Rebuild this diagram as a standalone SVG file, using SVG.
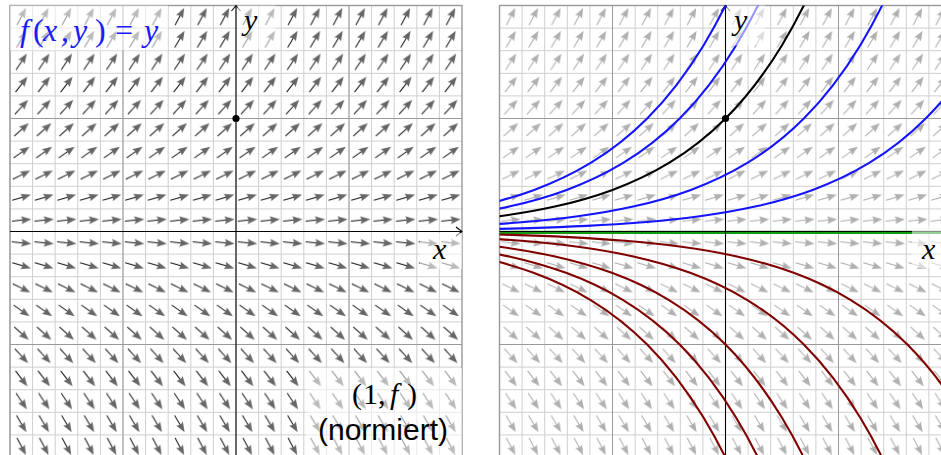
<svg xmlns="http://www.w3.org/2000/svg" width="941" height="455" viewBox="0 0 941 455">
<style>
.minor{fill:none;stroke:#cfcfcf;stroke-width:1}
.major{fill:none;stroke:#9a9a9a;stroke-width:1}
.frame{fill:none;stroke:#999999;stroke-width:1.4}
.axis{fill:none;stroke:#000000;stroke-width:1.1}
.veil{fill:#ffffff;fill-opacity:0.55}
.math{font-family:"Liberation Serif","DejaVu Serif",serif;font-size:30px;fill:#000000}
.it{font-style:italic}
.sol{fill:none;stroke-width:2.1}
.sans{font-family:"Liberation Sans",Arial,sans-serif;font-size:30px;fill:#000000}
</style>
<defs>
<g id="a"><line x1="-9.5" y1="0" x2="2" y2="0" stroke="#111111" stroke-width="1"/><path d="M10,0 L0,-3.9 Q2.4,0 0,3.9 Z" fill="#666666"/></g>
<g id="b"><line x1="-9.5" y1="0" x2="2" y2="0" stroke="#a8a8a8" stroke-width="1"/><path d="M10,0 L0,-3.9 Q2.4,0 0,3.9 Z" fill="#b0b0b0"/></g>
<pattern id="p0" patternUnits="userSpaceOnUse" x="10" y="5.5" width="22.6" height="22.6"><use href="#a" transform="translate(11.3,11.3) rotate(-62.24)"/></pattern>
<pattern id="p1" patternUnits="userSpaceOnUse" x="10" y="5.5" width="22.6" height="22.6"><use href="#a" transform="translate(11.3,11.3) rotate(-59.53)"/></pattern>
<pattern id="p2" patternUnits="userSpaceOnUse" x="10" y="5.5" width="22.6" height="22.6"><use href="#a" transform="translate(11.3,11.3) rotate(-56.31)"/></pattern>
<pattern id="p3" patternUnits="userSpaceOnUse" x="10" y="5.5" width="22.6" height="22.6"><use href="#a" transform="translate(11.3,11.3) rotate(-52.43)"/></pattern>
<pattern id="p4" patternUnits="userSpaceOnUse" x="10" y="5.5" width="22.6" height="22.6"><use href="#a" transform="translate(11.3,11.3) rotate(-47.73)"/></pattern>
<pattern id="p5" patternUnits="userSpaceOnUse" x="10" y="5.5" width="22.6" height="22.6"><use href="#a" transform="translate(11.3,11.3) rotate(-41.99)"/></pattern>
<pattern id="p6" patternUnits="userSpaceOnUse" x="10" y="5.5" width="22.6" height="22.6"><use href="#a" transform="translate(11.3,11.3) rotate(-34.99)"/></pattern>
<pattern id="p7" patternUnits="userSpaceOnUse" x="10" y="5.5" width="22.6" height="22.6"><use href="#a" transform="translate(11.3,11.3) rotate(-26.57)"/></pattern>
<pattern id="p8" patternUnits="userSpaceOnUse" x="10" y="5.5" width="22.6" height="22.6"><use href="#a" transform="translate(11.3,11.3) rotate(-16.70)"/></pattern>
<pattern id="p9" patternUnits="userSpaceOnUse" x="10" y="5.5" width="22.6" height="22.6"><use href="#a" transform="translate(11.3,11.3) rotate(-5.71)"/></pattern>
<pattern id="p10" patternUnits="userSpaceOnUse" x="10" y="5.5" width="22.6" height="22.6"><use href="#a" transform="translate(11.3,11.3) rotate(5.71)"/></pattern>
<pattern id="p11" patternUnits="userSpaceOnUse" x="10" y="5.5" width="22.6" height="22.6"><use href="#a" transform="translate(11.3,11.3) rotate(16.70)"/></pattern>
<pattern id="p12" patternUnits="userSpaceOnUse" x="10" y="5.5" width="22.6" height="22.6"><use href="#a" transform="translate(11.3,11.3) rotate(26.57)"/></pattern>
<pattern id="p13" patternUnits="userSpaceOnUse" x="10" y="5.5" width="22.6" height="22.6"><use href="#a" transform="translate(11.3,11.3) rotate(34.99)"/></pattern>
<pattern id="p14" patternUnits="userSpaceOnUse" x="10" y="5.5" width="22.6" height="22.6"><use href="#a" transform="translate(11.3,11.3) rotate(41.99)"/></pattern>
<pattern id="p15" patternUnits="userSpaceOnUse" x="10" y="5.5" width="22.6" height="22.6"><use href="#a" transform="translate(11.3,11.3) rotate(47.73)"/></pattern>
<pattern id="p16" patternUnits="userSpaceOnUse" x="10" y="5.5" width="22.6" height="22.6"><use href="#a" transform="translate(11.3,11.3) rotate(52.43)"/></pattern>
<pattern id="p17" patternUnits="userSpaceOnUse" x="10" y="5.5" width="22.6" height="22.6"><use href="#a" transform="translate(11.3,11.3) rotate(56.31)"/></pattern>
<pattern id="p18" patternUnits="userSpaceOnUse" x="10" y="5.5" width="22.6" height="22.6"><use href="#a" transform="translate(11.3,11.3) rotate(59.53)"/></pattern>
<pattern id="p19" patternUnits="userSpaceOnUse" x="10" y="5.5" width="22.6" height="22.6"><use href="#a" transform="translate(11.3,11.3) rotate(62.24)"/></pattern>
<pattern id="q0" patternUnits="userSpaceOnUse" x="499.5" y="5.5" width="22.6" height="22.6"><use href="#b" transform="translate(11.3,11.3) rotate(-62.24)"/></pattern>
<pattern id="q1" patternUnits="userSpaceOnUse" x="499.5" y="5.5" width="22.6" height="22.6"><use href="#b" transform="translate(11.3,11.3) rotate(-59.53)"/></pattern>
<pattern id="q2" patternUnits="userSpaceOnUse" x="499.5" y="5.5" width="22.6" height="22.6"><use href="#b" transform="translate(11.3,11.3) rotate(-56.31)"/></pattern>
<pattern id="q3" patternUnits="userSpaceOnUse" x="499.5" y="5.5" width="22.6" height="22.6"><use href="#b" transform="translate(11.3,11.3) rotate(-52.43)"/></pattern>
<pattern id="q4" patternUnits="userSpaceOnUse" x="499.5" y="5.5" width="22.6" height="22.6"><use href="#b" transform="translate(11.3,11.3) rotate(-47.73)"/></pattern>
<pattern id="q5" patternUnits="userSpaceOnUse" x="499.5" y="5.5" width="22.6" height="22.6"><use href="#b" transform="translate(11.3,11.3) rotate(-41.99)"/></pattern>
<pattern id="q6" patternUnits="userSpaceOnUse" x="499.5" y="5.5" width="22.6" height="22.6"><use href="#b" transform="translate(11.3,11.3) rotate(-34.99)"/></pattern>
<pattern id="q7" patternUnits="userSpaceOnUse" x="499.5" y="5.5" width="22.6" height="22.6"><use href="#b" transform="translate(11.3,11.3) rotate(-26.57)"/></pattern>
<pattern id="q8" patternUnits="userSpaceOnUse" x="499.5" y="5.5" width="22.6" height="22.6"><use href="#b" transform="translate(11.3,11.3) rotate(-16.70)"/></pattern>
<pattern id="q9" patternUnits="userSpaceOnUse" x="499.5" y="5.5" width="22.6" height="22.6"><use href="#b" transform="translate(11.3,11.3) rotate(-5.71)"/></pattern>
<pattern id="q10" patternUnits="userSpaceOnUse" x="499.5" y="5.5" width="22.6" height="22.6"><use href="#b" transform="translate(11.3,11.3) rotate(5.71)"/></pattern>
<pattern id="q11" patternUnits="userSpaceOnUse" x="499.5" y="5.5" width="22.6" height="22.6"><use href="#b" transform="translate(11.3,11.3) rotate(16.70)"/></pattern>
<pattern id="q12" patternUnits="userSpaceOnUse" x="499.5" y="5.5" width="22.6" height="22.6"><use href="#b" transform="translate(11.3,11.3) rotate(26.57)"/></pattern>
<pattern id="q13" patternUnits="userSpaceOnUse" x="499.5" y="5.5" width="22.6" height="22.6"><use href="#b" transform="translate(11.3,11.3) rotate(34.99)"/></pattern>
<pattern id="q14" patternUnits="userSpaceOnUse" x="499.5" y="5.5" width="22.6" height="22.6"><use href="#b" transform="translate(11.3,11.3) rotate(41.99)"/></pattern>
<pattern id="q15" patternUnits="userSpaceOnUse" x="499.5" y="5.5" width="22.6" height="22.6"><use href="#b" transform="translate(11.3,11.3) rotate(47.73)"/></pattern>
<pattern id="q16" patternUnits="userSpaceOnUse" x="499.5" y="5.5" width="22.6" height="22.6"><use href="#b" transform="translate(11.3,11.3) rotate(52.43)"/></pattern>
<pattern id="q17" patternUnits="userSpaceOnUse" x="499.5" y="5.5" width="22.6" height="22.6"><use href="#b" transform="translate(11.3,11.3) rotate(56.31)"/></pattern>
<pattern id="q18" patternUnits="userSpaceOnUse" x="499.5" y="5.5" width="22.6" height="22.6"><use href="#b" transform="translate(11.3,11.3) rotate(59.53)"/></pattern>
<pattern id="q19" patternUnits="userSpaceOnUse" x="499.5" y="5.5" width="22.6" height="22.6"><use href="#b" transform="translate(11.3,11.3) rotate(62.24)"/></pattern>
<path id="gmin" class="minor" d="M10,5.5v452m22.6,-452v452m22.6,-452v452m22.6,-452v452m22.6,-452v452m22.6,-452v452m22.6,-452v452m22.6,-452v452m22.6,-452v452m22.6,-452v452m22.6,-452v452m22.6,-452v452m22.6,-452v452m22.6,-452v452m22.6,-452v452m22.6,-452v452m22.6,-452v452m22.6,-452v452m22.6,-452v452m22.6,-452v452M10,5.5h452m-452,22.6h452m-452,22.6h452m-452,22.6h452m-452,22.6h452m-452,22.6h452m-452,22.6h452m-452,22.6h452m-452,22.6h452m-452,22.6h452m-452,22.6h452m-452,22.6h452m-452,22.6h452m-452,22.6h452m-452,22.6h452m-452,22.6h452m-452,22.6h452m-452,22.6h452m-452,22.6h452m-452,22.6h452"/>
<path id="gmaj" class="major" d="M123,5.5v452M349,5.5v452M10,118.5h452M10,344.5h452"/>
<path id="ex" fill="none" d="M-452,-2.07C-433.17,-2.415 -414.33,-2.844 -395.5,-3.413C-376.67,-3.982 -357.83,-4.688 -339,-5.626C-320.17,-6.564 -301.33,-7.729 -282.5,-9.275C-263.67,-10.821 -244.83,-12.744 -226,-15.293C-207.17,-17.842 -188.33,-21.012 -169.5,-25.214C-150.67,-29.416 -131.83,-34.642 -113,-41.57C-94.17,-48.498 -75.33,-57.115 -56.5,-68.538C-37.67,-79.961 -18.83,-94.167 0,-113C18.83,-131.833 37.67,-155.254 56.5,-186.305C75.33,-217.356 94.17,-255.972 113,-307.166"/>
<clipPath id="clipR"><rect x="499.5" y="5.5" width="441.5" height="452"/></clipPath>
</defs>
<rect x="0" y="0" width="941" height="455" fill="#ffffff"/>

<g id="left-panel">
<use href="#gmin"/>
<g id="left-field">
<rect x="10" y="5.5" width="452" height="22.6" fill="url(#p0)"/>
<rect x="10" y="28.1" width="452" height="22.6" fill="url(#p1)"/>
<rect x="10" y="50.7" width="452" height="22.6" fill="url(#p2)"/>
<rect x="10" y="73.3" width="452" height="22.6" fill="url(#p3)"/>
<rect x="10" y="95.9" width="452" height="22.6" fill="url(#p4)"/>
<rect x="10" y="118.5" width="452" height="22.6" fill="url(#p5)"/>
<rect x="10" y="141.1" width="452" height="22.6" fill="url(#p6)"/>
<rect x="10" y="163.7" width="452" height="22.6" fill="url(#p7)"/>
<rect x="10" y="186.3" width="452" height="22.6" fill="url(#p8)"/>
<rect x="10" y="208.9" width="452" height="22.6" fill="url(#p9)"/>
<rect x="10" y="231.5" width="452" height="22.6" fill="url(#p10)"/>
<rect x="10" y="254.1" width="452" height="22.6" fill="url(#p11)"/>
<rect x="10" y="276.7" width="452" height="22.6" fill="url(#p12)"/>
<rect x="10" y="299.3" width="452" height="22.6" fill="url(#p13)"/>
<rect x="10" y="321.9" width="452" height="22.6" fill="url(#p14)"/>
<rect x="10" y="344.5" width="452" height="22.6" fill="url(#p15)"/>
<rect x="10" y="367.1" width="452" height="22.6" fill="url(#p16)"/>
<rect x="10" y="389.7" width="452" height="22.6" fill="url(#p17)"/>
<rect x="10" y="412.3" width="452" height="22.6" fill="url(#p18)"/>
<rect x="10" y="434.9" width="452" height="22.6" fill="url(#p19)"/>
</g>
<use href="#gmaj"/>
<rect class="frame" x="10" y="5.5" width="452" height="452"/>
<g id="left-axes">
<path class="axis" d="M236,457.5V6M10,231.5H461"/>
<path class="axis" d="M231.5,11Q234.5,7.5 236,5.5Q237.5,7.5 240.5,11M456,227Q460,230 462,231.5Q460,233 456,236"/>
</g>
<circle id="left-point" cx="236" cy="118.5" r="3.6" fill="#000000"/>
<g id="left-labels">
<rect class="veil" x="10" y="5.5" width="158" height="45"/>
<rect class="veil" x="237.5" y="5.5" width="38" height="43"/>
<rect class="veil" x="420" y="233" width="42" height="36"/>
<rect class="veil" x="306" y="368" width="156" height="90"/>
<text class="math" y="41" style="fill:#1a1aff;font-size:32px"><tspan x="20" class="it">f</tspan><tspan x="33">(</tspan><tspan x="43" class="it">x</tspan><tspan x="61">,</tspan><tspan x="73" class="it">y</tspan><tspan x="95">)</tspan><tspan x="115">=</tspan><tspan x="144" class="it">y</tspan></text>
<text class="math it" x="244" y="30">y</text>
<text class="math it" x="433" y="259">x</text>
<text class="math" y="403.5" style="font-size:30px"><tspan x="352">(</tspan><tspan x="363">1</tspan><tspan x="378">,</tspan><tspan x="390" class="it">f</tspan><tspan x="407">)</tspan></text>
<text class="sans" x="318" y="440">(normiert)</text>
</g>
</g>

<g id="right-panel">
<use href="#gmin" transform="translate(489.5,0)"/>
<g id="right-field">
<rect x="499.5" y="5.5" width="441.5" height="22.6" fill="url(#q0)"/>
<rect x="499.5" y="28.1" width="441.5" height="22.6" fill="url(#q1)"/>
<rect x="499.5" y="50.7" width="441.5" height="22.6" fill="url(#q2)"/>
<rect x="499.5" y="73.3" width="441.5" height="22.6" fill="url(#q3)"/>
<rect x="499.5" y="95.9" width="441.5" height="22.6" fill="url(#q4)"/>
<rect x="499.5" y="118.5" width="441.5" height="22.6" fill="url(#q5)"/>
<rect x="499.5" y="141.1" width="441.5" height="22.6" fill="url(#q6)"/>
<rect x="499.5" y="163.7" width="441.5" height="22.6" fill="url(#q7)"/>
<rect x="499.5" y="186.3" width="441.5" height="22.6" fill="url(#q8)"/>
<rect x="499.5" y="208.9" width="441.5" height="22.6" fill="url(#q9)"/>
<rect x="499.5" y="231.5" width="441.5" height="22.6" fill="url(#q10)"/>
<rect x="499.5" y="254.1" width="441.5" height="22.6" fill="url(#q11)"/>
<rect x="499.5" y="276.7" width="441.5" height="22.6" fill="url(#q12)"/>
<rect x="499.5" y="299.3" width="441.5" height="22.6" fill="url(#q13)"/>
<rect x="499.5" y="321.9" width="441.5" height="22.6" fill="url(#q14)"/>
<rect x="499.5" y="344.5" width="441.5" height="22.6" fill="url(#q15)"/>
<rect x="499.5" y="367.1" width="441.5" height="22.6" fill="url(#q16)"/>
<rect x="499.5" y="389.7" width="441.5" height="22.6" fill="url(#q17)"/>
<rect x="499.5" y="412.3" width="441.5" height="22.6" fill="url(#q18)"/>
<rect x="499.5" y="434.9" width="441.5" height="22.6" fill="url(#q19)"/>
</g>
<use href="#gmaj" transform="translate(489.5,0)"/>
<rect class="frame" x="499.5" y="5.5" width="452" height="452"/>
<line id="zero-solution" x1="499.5" y1="232.4" x2="941" y2="232.4" stroke="#129a12" stroke-width="3.2"/>
<g id="right-axes">
<path class="axis" d="M725.5,457.5V6M499.5,231.5H941"/>
<path class="axis" d="M721,11Q724,7.5 725.5,5.5Q727,7.5 730,11"/>
</g>
<g id="solutions" clip-path="url(#clipR)">
<g transform="translate(725.5,231.5)">
<use href="#ex" class="sol" stroke="#1414ff" transform="translate(-78.33,0)"/>
<use href="#ex" class="sol" stroke="#1414ff" transform="translate(-45.82,0)"/>
<use href="#ex" class="sol" stroke="#1414ff" transform="translate(78.33,0)"/>
<use href="#ex" class="sol" stroke="#1414ff" transform="translate(200.2,0)"/>
<use href="#ex" class="sol" stroke="#000000" transform="translate(0,0)"/>
<use href="#ex" class="sol" stroke="#800000" transform="translate(-78.33,0) scale(1,-1)"/>
<use href="#ex" class="sol" stroke="#800000" transform="translate(-45.82,0) scale(1,-1)"/>
<use href="#ex" class="sol" stroke="#800000" transform="translate(0,0) scale(1,-1)"/>
<use href="#ex" class="sol" stroke="#800000" transform="translate(78.33,0) scale(1,-1)"/>
<use href="#ex" class="sol" stroke="#800000" transform="translate(181.9,0) scale(1,-1)"/>
</g>
</g>
<circle id="right-point" cx="725.5" cy="118.5" r="3.6" fill="#000000"/>
<g id="right-labels">
<rect class="veil" x="727" y="5.5" width="38" height="40"/>
<rect class="veil" x="912" y="226" width="29" height="42"/>
<text class="math it" x="734" y="30">y</text>
<text class="math it" x="922" y="259">x</text>
</g>
</g>
</svg>
